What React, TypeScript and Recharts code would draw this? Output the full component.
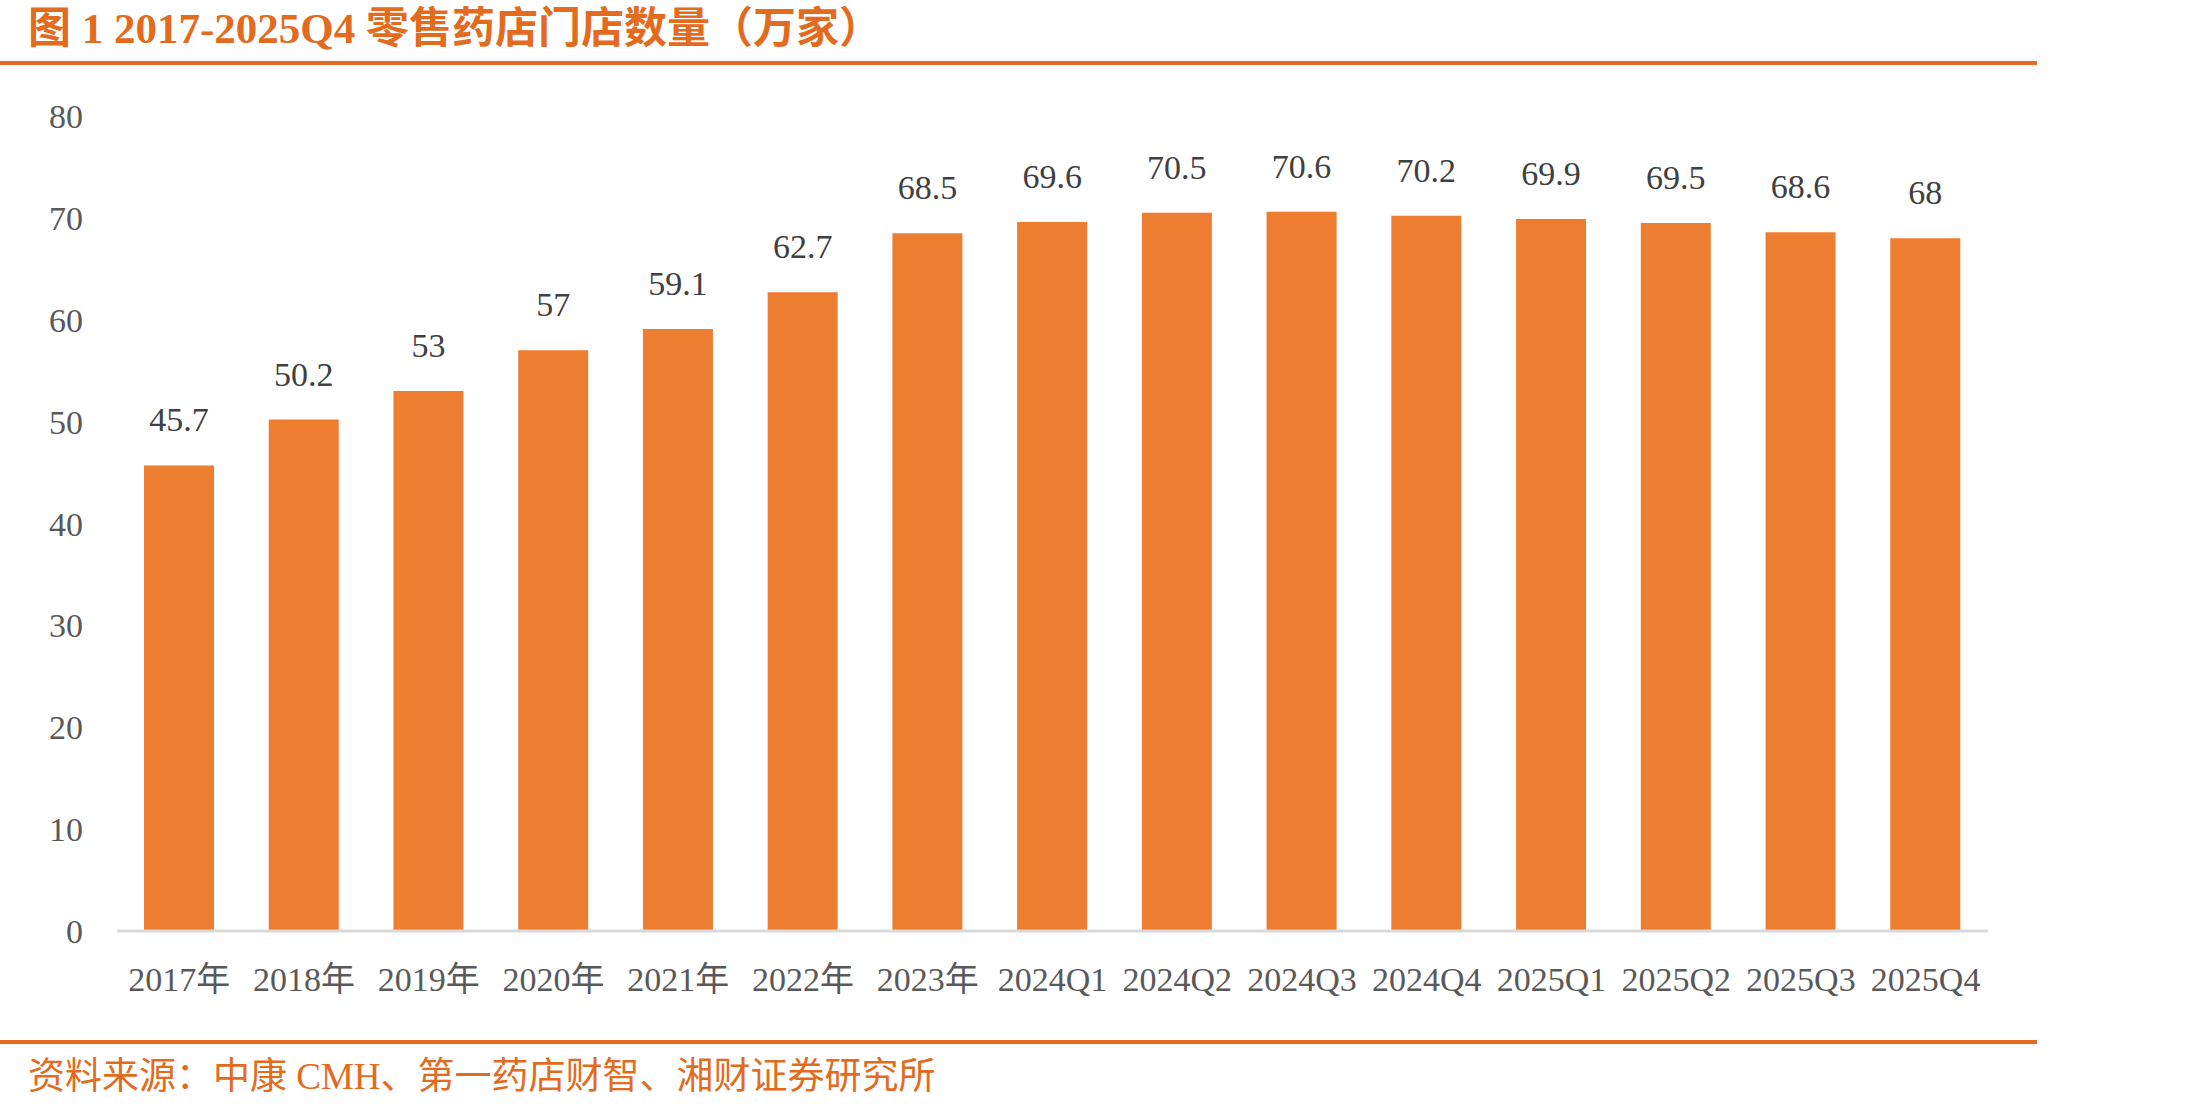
import { Bar, BarChart, LabelList, XAxis, YAxis } from "recharts";

const categories = [
  "2017年", "2018年", "2019年", "2020年", "2021年", "2022年", "2023年",
  "2024Q1", "2024Q2", "2024Q3", "2024Q4", "2025Q1", "2025Q2", "2025Q3", "2025Q4",
];
const storeCounts = [45.7, 50.2, 53, 57, 59.1, 62.7, 68.5, 69.6, 70.5, 70.6, 70.2, 69.9, 69.5, 68.6, 68];
const yTicks = [0, 10, 20, 30, 40, 50, 60, 70, 80];

const data = categories.map((name, i) => ({ name, value: storeCounts[i] }));

const serif = '"Liberation Serif", "Noto Sans CJK SC", serif';
const orange = "#E26B1E";

export default function App() {
  return (
    <div
      style={{
        position: "absolute",
        left: 0,
        top: 0,
        width: 2185,
        height: 1109,
        background: "#fff",
        fontFamily: serif,
        overflow: "hidden",
      }}
    >
      <div
        style={{
          position: "absolute",
          left: 28,
          top: 6,
          fontSize: 43,
          lineHeight: "46px",
          fontWeight: "bold",
          color: orange,
          whiteSpace: "nowrap",
        }}
      >
        图 1 2017-2025Q4 零售药店门店数量（万家）
      </div>
      <div style={{ position: "absolute", left: 0, top: 61, width: 2037, height: 4, background: orange }} />

      <div style={{ position: "absolute", left: 0, top: 0 }}>
        <BarChart
          width={2185}
          height={1109}
          data={data}
          margin={{ top: 116, right: 197, left: 0, bottom: 118 }}
        >
          <XAxis
            dataKey="name"
            height={60}
            interval={0}
            tickSize={0}
            tickMargin={36}
            axisLine={{ stroke: "#D9D9D9", strokeWidth: 3 }}
            tick={{ fill: "#595959", fontSize: 34, fontFamily: serif }}
          />
          <YAxis
            width={117}
            domain={[0, 80]}
            ticks={yTicks}
            interval={0}
            tickSize={0}
            tickMargin={34}
            axisLine={false}
            tickLine={false}
            tick={{ fill: "#595959", fontSize: 34, fontFamily: serif }}
          />
          <Bar dataKey="value" fill="#ED7D31" barSize={70} isAnimationActive={false}>
            <LabelList
              dataKey="value"
              position="top"
              offset={34}
              fill="#404040"
              fontSize={34}
              fontFamily={serif}
            />
          </Bar>
        </BarChart>
      </div>

      <div style={{ position: "absolute", left: 0, top: 1040, width: 2037, height: 4, background: orange }} />
      <div
        style={{
          position: "absolute",
          left: 28,
          top: 1056,
          fontSize: 37,
          lineHeight: "42px",
          color: orange,
          whiteSpace: "nowrap",
        }}
      >
        资料来源：中康 CMH、第一药店财智、湘财证券研究所
      </div>
    </div>
  );
}
